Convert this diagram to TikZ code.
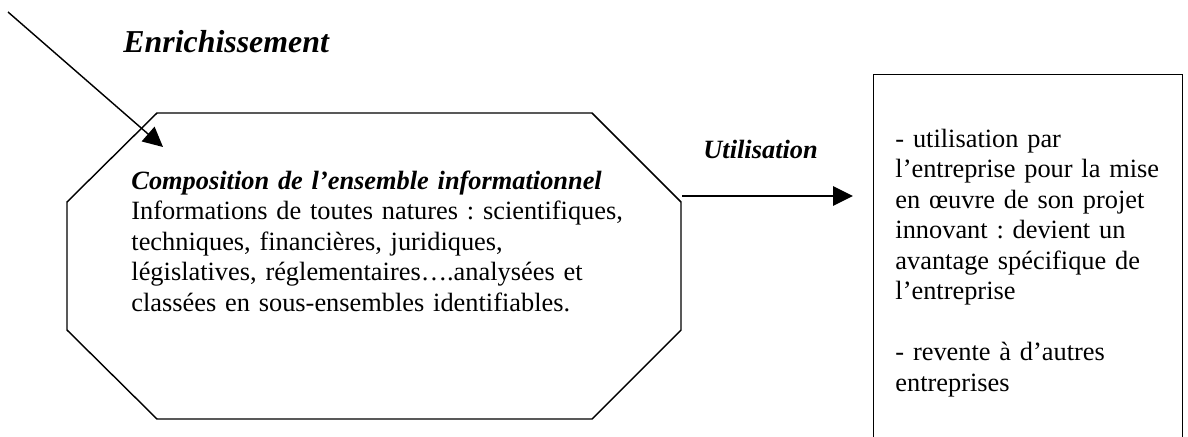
\documentclass[tikz,border=0pt]{standalone}
\usepackage{fontspec}
\setmainfont{Liberation Serif}
\frenchspacing
\usetikzlibrary{arrows.meta}
\begin{document}
\begin{tikzpicture}[x=0.455pt,y=-0.455pt,
  line/.style={line width=0.65pt, draw=black},
  arr/.style={line width=0.65pt, draw=black, -{Triangle[length=9pt,width=8.8pt]}},
  lbl/.style={font=\fontsize{12}{13.9}\selectfont\bfseries\itshape, inner sep=0pt, anchor=base west},
  ttl/.style={font=\fontsize{14.5}{16}\selectfont\bfseries\itshape, inner sep=0pt, anchor=base west},
  body/.style={font=\fontsize{12}{13.9}\selectfont, inner sep=0pt, anchor=base west, align=left},
  boxst/.style={line, rectangle, inner sep=0pt, anchor=north west, minimum width=140.6pt, minimum height=190pt}]
\useasboundingbox (0,0) rectangle (1188,436);
\clip (0,0) rectangle (1188,436);
% octagon
\coordinate (o1) at (157,113);
\coordinate (o2) at (592,113);
\coordinate (o3) at (681,202);
\coordinate (o4) at (681,330);
\coordinate (o5) at (592,419);
\coordinate (o6) at (157,419);
\coordinate (o7) at (67,330);
\coordinate (o8) at (67,202);
\draw[line] (o1) -- (o2) -- (o3) -- (o4) -- (o5) -- (o6) -- (o7) -- (o8) -- cycle;
\node[body, text width=250pt] (comp) at (131,189) {\textbf{\textit{Composition de l’ensemble informationnel}}\\
Informations de toutes natures : scientifiques,\\
techniques, financières, juridiques,\\
législatives, réglementaires….analysées et\\
classées en sous-ensembles identifiables.};
% right box
\node[boxst] (res) at (873,74) {};
\node[body, text width=135pt] (restext) at (895,147) {- utilisation par\\
l’entreprise pour la mise\\
en œuvre de son projet\\
innovant : devient un\\
avantage spécifique de\\
l’entreprise\\[13.9pt]
- revente à d’autres\\
entreprises};
% labels
\node[ttl] (enr) at (123,52) {Enrichissement};
\node[lbl] (util) at (703,158) {Utilisation};
% arrows
\coordinate (a1s) at (8,12);
\coordinate (a1e) at (163,147);
\draw[arr] (a1s) -- (a1e);
\coordinate (a2s) at (682,196);
\coordinate (a2e) at (853,196);
\draw[arr] (a2s) -- (a2e);
\end{tikzpicture}
\end{document}
